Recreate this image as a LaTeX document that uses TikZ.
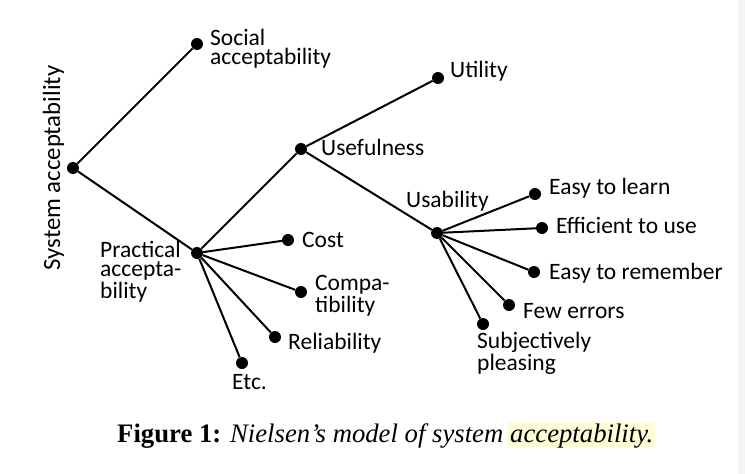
\documentclass[tikz,border=0pt]{standalone}
\usepackage{fontspec}
\newfontfamily\lblfont{Carlito}
\newfontfamily\capfont{Liberation Serif}
\definecolor{hlyellow}{RGB}{253,252,214}

\begin{document}
\begin{tikzpicture}[x=1pt, y=-1pt,
  dot/.style={circle, fill=black, inner sep=0pt, minimum size=12pt},
  branch/.style={line width=2pt},
  lbl/.style={font={\lblfont\fontsize{23.5}{19}\selectfont}, inner sep=0pt,
    align=left, anchor=base west},
  captext/.style={font={\capfont\fontsize{26.7}{30}\selectfont}, inner sep=0pt}]

  %% Border of the page
  \useasboundingbox (0,0) rectangle (745,474);
  \fill[black!4] (738,0) rectangle (745,474);

  %% The dots of the tree
  \node[dot] (sys) at (73,168) {};
  \node[dot] (social) at (197,44) {};
  \node[dot] (practical) at (197,253) {};
  \node[dot] (usefulness) at (301,149) {};
  \node[dot] (utility) at (438,78) {};
  \node[dot] (usability) at (437,233) {};
  \node[dot] (cost) at (288,240) {};
  \node[dot] (compat) at (301,292) {};
  \node[dot] (reliab) at (275,337) {};
  \node[dot] (etc) at (242,363) {};
  \node[dot] (learn) at (535,194) {};
  \node[dot] (efficient) at (542,228) {};
  \node[dot] (remember) at (534,272) {};
  \node[dot] (errors) at (509,305) {};
  \node[dot] (pleasing) at (483,324) {};

  %% The branches
  \draw[branch] (sys) -- (social);
  \draw[branch] (sys) -- (practical);
  \draw[branch] (practical) -- (usefulness);
  \draw[branch] (practical) -- (cost);
  \draw[branch] (practical) -- (compat);
  \draw[branch] (practical) -- (reliab);
  \draw[branch] (practical) -- (etc);
  \draw[branch] (usefulness) -- (utility);
  \draw[branch] (usefulness) -- (usability);
  \draw[branch] (usability) -- (learn);
  \draw[branch] (usability) -- (efficient);
  \draw[branch] (usability) -- (remember);
  \draw[branch] (usability) -- (errors);
  \draw[branch] (usability) -- (pleasing);

  %% The labels (base of a multi-line label is its last line)
  \node[lbl, anchor=base, rotate=90, font={\lblfont\fontsize{24.8}{19}\selectfont}]
  (sys-text) at ([shift={(-13,0)}]sys) {System acceptability};
  \node[lbl] (social-text) at ([shift={(13,20)}]social)
  {Social\\acceptability};
  \node[lbl] (practical-text) at ([shift={(-97,45)}]practical)
  {Practical\\accepta-\\bility};
  \node[lbl] (usefulness-text) at ([shift={(20,6)}]usefulness) {Usefulness};
  \node[lbl] (utility-text) at ([shift={(12,-1)}]utility) {Utility};
  \node[lbl] (usability-text) at ([shift={(-31,-26)}]usability) {Usability};
  \node[lbl] (cost-text) at ([shift={(14,7)}]cost) {Cost};
  \node[lbl] (compat-text) at ([shift={(14,20)}]compat) {Compa-\\tibility};
  \node[lbl] (reliab-text) at ([shift={(13,12)}]reliab) {Reliability};
  \node[lbl] (etc-text) at ([shift={(-10,26)}]etc) {Etc.};
  \node[lbl] (learn-text) at ([shift={(14,0)}]learn) {Easy to learn};
  \node[lbl] (efficient-text) at ([shift={(14,5)}]efficient) {Efficient to use};
  \node[lbl] (remember-text) at ([shift={(15,7)}]remember) {Easy to remember};
  \node[lbl] (errors-text) at ([shift={(14,13)}]errors) {Few errors};
  \node[lbl] (pleasing-text) at ([shift={(-6,46)}]pleasing)
  {Subjectively\\pleasing};

  %% The caption
  \node[captext, anchor=base west] (caption) at (117,442)
  {\textbf{Figure 1:} \textit{Nielsen’s model of system}};
  \node[captext, anchor=base west, fill=hlyellow, rounded corners=1.5pt,
    inner xsep=2pt, text height=20pt, text depth=5pt] (caption-hl)
  at ([shift={(4.5,0)}]caption.base east) {\textit{acceptability.}};

\end{tikzpicture}
\end{document}
